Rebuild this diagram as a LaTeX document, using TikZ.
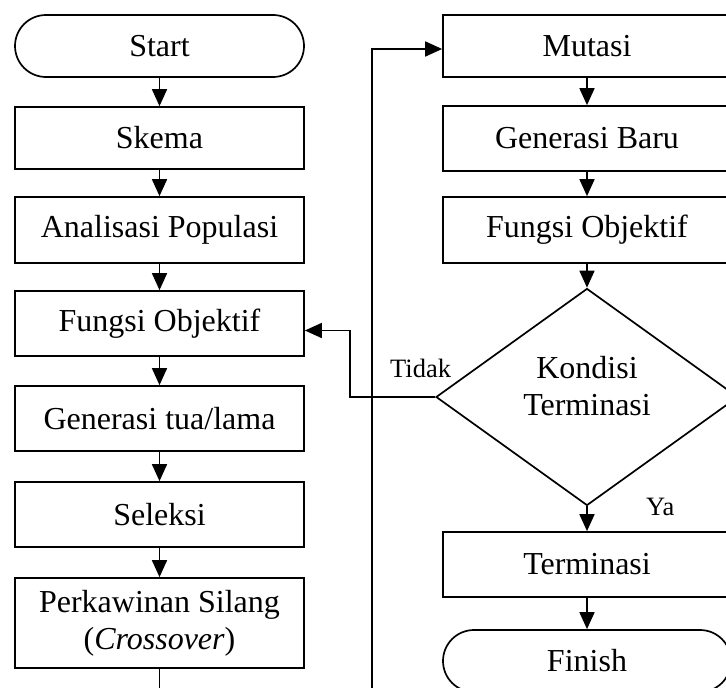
\documentclass[tikz,border=0pt]{standalone}
\usepackage{fontspec}
\setmainfont{Liberation Serif}
\usetikzlibrary{arrows.meta,shapes.geometric}
\begin{document}
\begin{tikzpicture}[x=1pt,y=-1pt,
  every node/.style={font=\fontsize{32}{37}\selectfont},
  box/.style={draw,line width=1.7pt,rectangle,minimum width=289pt,inner sep=0pt,align=center},
  term/.style={draw,line width=1.7pt,rectangle,rounded corners=31pt,minimum width=289pt,minimum height=62pt,inner sep=0pt},
  decide/.style={draw,line width=1.7pt,diamond,aspect=1.39,minimum width=302pt,minimum height=217pt,inner sep=0pt},
  lbl/.style={font=\fontsize{26.5}{30}\selectfont,inner sep=0pt},
  conn/.style={line width=1.7pt,-{Triangle[length=17pt,width=15pt]}}]
\useasboundingbox (0,0) rectangle (726,688);
\clip (0,0) rectangle (726,688);
% left column
\node[term] (start) at (159.5,46) {Start};
\node[box,minimum height=62pt] (skema) at (159.5,138) {Skema};
\node[box,minimum height=66pt] (anal) at (159.5,230) {Analisasi Populasi};
\node[box,minimum height=65pt] (fo1) at (159.5,323.5) {Fungsi Objektif};
\node[box,minimum height=65pt] (gentua) at (159.5,418.5) {Generasi tua/lama};
\node[box,minimum height=65pt] (sel) at (159.5,514.5) {Seleksi};
\node[box,minimum height=90pt] (cross) at (159.5,623) {Perkawinan Silang\\(\textit{Crossover})};
% right column
\node[box,minimum height=62pt,minimum width=288pt] (mut) at (587,46) {Mutasi};
\node[box,minimum height=65pt,minimum width=288pt] (genbaru) at (587,138.5) {Generasi Baru};
\node[box,minimum height=66pt,minimum width=288pt] (fo2) at (587,230) {Fungsi Objektif};
\node[decide] (cond) at (587,397) {};
\node[align=center,inner sep=0pt] (condtext) at (587,386) {Kondisi\\Terminasi};
\node[box,minimum height=65pt,minimum width=288pt] (termin) at (587,564.5) {Terminasi};
\node[term,minimum width=288pt] (finish) at (587,661) {Finish};
% labels
\node[lbl,anchor=base west] (tidak) at (390,377) {Tidak};
\node[lbl,anchor=base west] (ya) at (646,515) {Ya};
% coordinates
\coordinate (c1) at (159.5,720);
\coordinate (c2) at (372,720);
\coordinate (c3) at (350,397);
% connectors left
\draw[conn] (start) -- (skema);
\draw[conn] (skema) -- (anal);
\draw[conn] (anal) -- (fo1);
\draw[conn] (fo1) -- (gentua);
\draw[conn] (gentua) -- (sel);
\draw[conn] (sel) -- (cross);
\draw[conn] (cross.south) -- (c1) -- (c2) |- ([yshift=-3pt]mut.west);
% connectors right
\draw[conn] (mut) -- (genbaru);
\draw[conn] (genbaru) -- (fo2);
\draw[conn] (fo2) -- (cond.north);
\draw[conn] (cond.south) -- (termin);
\draw[conn] (termin) -- (finish);
\draw[conn] (cond.west) -- (c3) |- ([yshift=-7pt]fo1.east);
\end{tikzpicture}
\end{document}
